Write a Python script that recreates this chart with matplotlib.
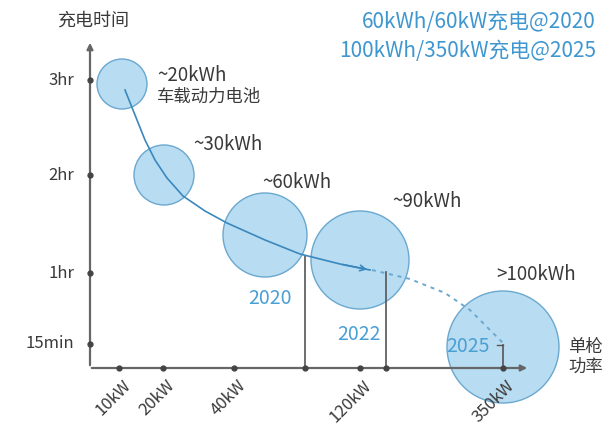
import matplotlib
matplotlib.use("Agg")
import matplotlib.pyplot as plt
from matplotlib.patches import Circle

plt.rcParams['font.family'] = ['Noto Sans CJK SC', 'DejaVu Sans']

# diagram coordinates (px-like, y grows downward)
y_ticks = [80, 175, 273, 344]
y_labels = ['3hr', '2hr', '1hr', '15min']
x_ticks = [119, 163, 234, 360, 503]
x_labels = ['10kW', '20kW', '40kW', '120kW', '350kW']

bubble_x = [122, 164, 265, 360, 503]
bubble_y = [84, 175, 235, 260, 347]
bubble_r = [25, 30, 42, 49, 56]
bubble_text = ['~20kWh', '~30kWh', '~60kWh', '~90kWh', '>100kWh']
text_x = [157, 193, 262, 392, 496]
text_y = [75, 145, 182, 201, 275]

year_text = ['2020', '2022', '2025']
year_x = [270, 359, 468]
year_y = [298, 335, 347]

curve_x = [125, 135, 145, 155, 167, 183, 205, 227, 265, 300, 340, 370]
curve_y = [90, 115, 140, 160, 178, 196, 211, 223, 240, 254, 264, 270]
dash_x = [372, 410, 445, 470, 490, 503]
dash_y = [270, 279, 293, 310, 330, 343]

drop_x = [305, 386]
drop_top = [256, 272]

ox, oy = 90, 368
blue = '#3f97d0'
fill = '#b8dcf1'
edge = '#6aa8cf'
txt = '#3a3a3a'

fig = plt.figure(figsize=(6.03, 4.25), dpi=100)
ax = fig.add_axes([0, 0, 1, 1])
ax.set_xlim(0, 603)
ax.set_ylim(425, 0)
ax.axis('off')

for x, y, r in zip(bubble_x, bubble_y, bubble_r):
    ax.add_patch(Circle((x, y), r, facecolor=fill, edgecolor=edge, lw=1.0, zorder=2))

# axes
ax.annotate('', xy=(ox, 40), xytext=(ox, oy),
            arrowprops=dict(arrowstyle='-|>', color='#666666', lw=1.6, mutation_scale=9), zorder=3)
ax.annotate('', xy=(530, oy), xytext=(ox - 1, oy),
            arrowprops=dict(arrowstyle='-|>', color='#666666', lw=1.6, mutation_scale=9), zorder=3)

ax.plot([ox] * len(y_ticks), y_ticks, 'o', color='#444444', ms=3.5, zorder=4)
for y, lab in zip(y_ticks, y_labels):
    ax.text(74, y, lab, ha='right', va='center', fontsize=12, color=txt)
ax.plot(x_ticks, [oy] * len(x_ticks), 'o', color='#444444', ms=3.5, zorder=4)
for x, lab in zip(x_ticks, x_labels):
    ax.text(x + 3, oy + 9, lab, ha='right', va='top', rotation=45,
            rotation_mode='anchor', fontsize=12, color=txt)

# drop lines
for x, t in zip(drop_x, drop_top):
    ax.plot([x, x], [t, oy], color='#555555', lw=1.2, zorder=3)
    ax.plot(x, oy, 'o', color='#444444', ms=3.5, zorder=4)
ax.plot([503, 503], [345, oy], color='#555555', lw=1.2, zorder=3)
ax.plot([503, 497], [345, 345], color='#555555', lw=1.0, zorder=3)

# trend curve
ax.plot(curve_x, curve_y, color='#3a88bd', lw=1.2, zorder=3)
ax.annotate('', xy=(curve_x[-1], curve_y[-1]), xytext=(curve_x[-2], curve_y[-2]),
            arrowprops=dict(arrowstyle='->', color='#3a88bd', lw=1.2, mutation_scale=10), zorder=3)
ax.plot(dash_x, dash_y, color='#6aa8cf', lw=1.4, ls=(0, (2, 2.5)), zorder=3)

for x, y, s in zip(text_x, text_y, bubble_text):
    ax.text(x, y, s, ha='left', va='center', fontsize=13.5, color=txt)
ax.text(text_x[0], 97, '车载动力电池', ha='left', va='center', fontsize=12.5, color=txt)

for x, y, s in zip(year_x, year_y, year_text):
    ax.text(x, y, s, ha='center', va='center', fontsize=14, color='#4a9fd4', zorder=5)

ax.text(93, 21, '充电时间', ha='center', va='center', fontsize=13, color=txt)
ax.text(568, 357, '单枪\n功率', ha='left', va='center', fontsize=12.5, color=txt, linespacing=1.15)

ax.text(596, 22, '60kWh/60kW充电@2020', ha='right', va='center', fontsize=15, color=blue)
ax.text(596, 51, '100kWh/350kW充电@2025', ha='right', va='center', fontsize=15, color=blue)

fig.savefig('out.png', dpi=100, facecolor='white')
